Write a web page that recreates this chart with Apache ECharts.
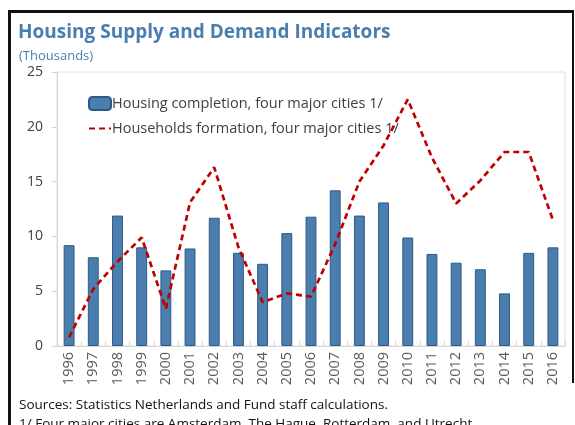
<!DOCTYPE html>
<html lang="en">
<head>
<meta charset="UTF-8">
<title>Housing Supply and Demand Indicators</title>
<script src="https://cdn.jsdelivr.net/npm/echarts@6/dist/echarts.min.js"></script>
<style>
  html, body { margin: 0; padding: 0; background: #fff; overflow: hidden; }
  #chart { width: 575px; height: 425px; }
</style>
</head>
<body>
<div id="chart"></div>
<script>
// years on the x axis
var years = ['1996', '1997', '1998', '1999', '2000', '2001', '2002', '2003', '2004', '2005', '2006',
             '2007', '2008', '2009', '2010', '2011', '2012', '2013', '2014', '2015', '2016'];
// housing completions, thousands
var completions = [9.2, 8.1, 11.9, 9.0, 6.9, 8.9, 11.7, 8.5, 7.5, 10.3, 11.8,
                   14.2, 11.9, 13.1, 9.9, 8.4, 7.6, 7.0, 4.8, 8.5, 9.0];
// households formation, thousands
var households = [0.8, 5.2, 7.7, 9.9, 3.4, 13.1, 16.3, 9.0, 4.0, 4.8, 4.5,
                  9.3, 15.0, 18.3, 22.5, 17.2, 13.0, 15.1, 17.7, 17.7, 11.5];
var yTicks = [0, 5, 10, 15, 20, 25];

var font = '"Open Sans", sans-serif';
var chart = echarts.init(document.getElementById('chart'));

chart.setOption({
    animation: false,
    textStyle: { fontFamily: font },
    // black frame round the exhibit (top, left, right)
    graphic: [
        { type: 'line', shape: { x1: 9.5, y1: 11.5, x2: 574, y2: 11.5 }, style: { stroke: '#111', lineWidth: 3 } },
        { type: 'line', shape: { x1: 9.5, y1: 10, x2: 9.5, y2: 425 }, style: { stroke: '#111', lineWidth: 3 } },
        { type: 'line', shape: { x1: 573, y1: 10, x2: 573, y2: 383 }, style: { stroke: '#111', lineWidth: 2 } }
    ],
    title: [
        { text: 'Housing Supply and Demand Indicators', left: 13, top: 18,
          textStyle: { fontSize: 19, fontWeight: 'bold', color: '#4a7eae', fontFamily: font } },
        { text: '(Thousands)', left: 14, top: 45,
          textStyle: { fontSize: 13, fontWeight: 'normal', color: '#4a7eae', fontFamily: font } },
        { text: 'Sources: Statistics Netherlands and Fund staff calculations.', left: 14, top: 393,
          textStyle: { fontSize: 13.5, fontWeight: 'normal', color: '#111', fontFamily: font } },
        { text: '1/ Four major cities are Amsterdam, The Hague, Rotterdam, and Utrecht.', left: 14, top: 412,
          textStyle: { fontSize: 13.5, fontWeight: 'normal', color: '#111', fontFamily: font } }
    ],
    legend: {
        left: 83, top: 91, orient: 'vertical', itemGap: 10,
        itemWidth: 22, itemHeight: 13,
        textStyle: { fontSize: 14.5, color: '#404040', fontFamily: font, padding: [0, 0, 0, -4] },
        data: [
            { name: 'Housing completion, four major cities 1/' },
            { name: 'Households formation, four major cities 1/', itemStyle: { opacity: 0 } }
        ]
    },
    grid: { left: 57, right: 10, top: 72, bottom: 79, show: true, borderColor: '#e0e0e0', borderWidth: 1 },
    xAxis: {
        type: 'category',
        data: years,
        axisLine: { lineStyle: { color: '#d6d6d6' } },
        axisTick: { show: true, inside: true, length: 5, lineStyle: { color: '#d6d6d6' } },
        axisLabel: { rotate: 90, margin: 6, fontSize: 14.5, color: '#595959', fontFamily: font }
    },
    yAxis: {
        type: 'value',
        min: yTicks[0], max: yTicks[yTicks.length - 1], interval: 5,
        splitLine: { show: false },
        axisLine: { show: true, lineStyle: { color: '#d6d6d6' } },
        axisTick: { show: true, length: 5, lineStyle: { color: '#d6d6d6' } },
        axisLabel: { margin: 14, fontSize: 14, color: '#404040', fontFamily: font }
    },
    series: [
        {
            name: 'Housing completion, four major cities 1/',
            type: 'bar',
            data: completions,
            barWidth: '45%',
            itemStyle: { color: '#4a7eae', borderColor: '#2d5a84', borderWidth: 1 }
        },
        {
            name: 'Households formation, four major cities 1/',
            type: 'line',
            data: households,
            symbol: 'none',
            lineStyle: { color: '#c00000', width: 2.7, type: [6, 4] },
            itemStyle: { color: '#c00000' }
        }
    ]
});
</script>
</body>
</html>
